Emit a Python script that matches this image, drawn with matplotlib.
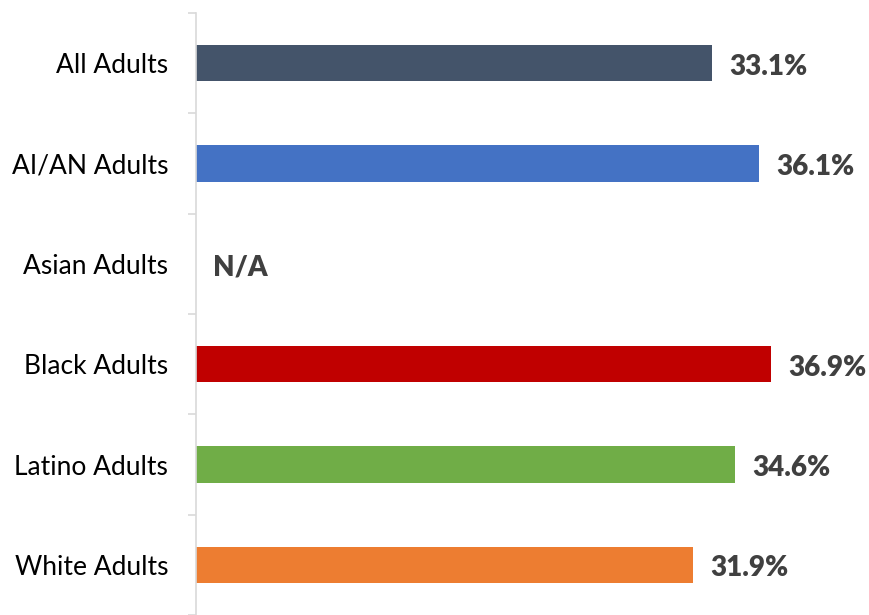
import numpy as np
import matplotlib
matplotlib.use("Agg")
import matplotlib.pyplot as plt

GROUPS = ["All Adults", "AI/AN Adults", "Asian Adults", "Black Adults",
          "Latino Adults", "White Adults"]
VALUES = [33.1, 36.1, np.nan, 36.9, 34.6, 31.9]
LABELS = ["33.1%", "36.1%", "N/A", "36.9%", "34.6%", "31.9%"]
COLORS = ["#44546A", "#4472C4", "#A5A5A5", "#C00000", "#70AD47", "#ED7D31"]

plt.rcParams["font.family"] = ["Lato", "DejaVu Sans"]

fig = plt.figure(figsize=(8.69, 6.15), dpi=100)
ax = fig.add_axes([196 / 869, 0, 673 / 869, 602 / 615])

y = np.arange(len(GROUPS))
vals = np.nan_to_num(VALUES)
ax.barh(y, vals, height=0.36, color=COLORS)

for yi, v, lab in zip(y, vals, LABELS):
    ax.annotate(lab, (v, yi), xytext=(12.5, -2.5), textcoords="offset points",
                ha="left", va="center", fontsize=20, fontweight="heavy",
                color="#404040")

ax.set_xlim(0, 673 / 15.59)
ax.set_ylim(5.4, -0.5)

ax.set_yticks(y)
ax.set_yticklabels(GROUPS, fontsize=19, color="#000000")
ax.tick_params(axis="y", which="major", length=0, pad=20)
ax.set_yticks(np.arange(-0.5, 6, 1.0), minor=True)
ax.tick_params(axis="y", which="minor", length=6, width=1.2, color="#d9d9d9")
ax.set_xticks([])

for s in ["top", "right", "bottom"]:
    ax.spines[s].set_visible(False)
ax.spines["left"].set_color("#d9d9d9")
ax.spines["left"].set_linewidth(1.2)

fig.savefig("out.png", dpi=100)
